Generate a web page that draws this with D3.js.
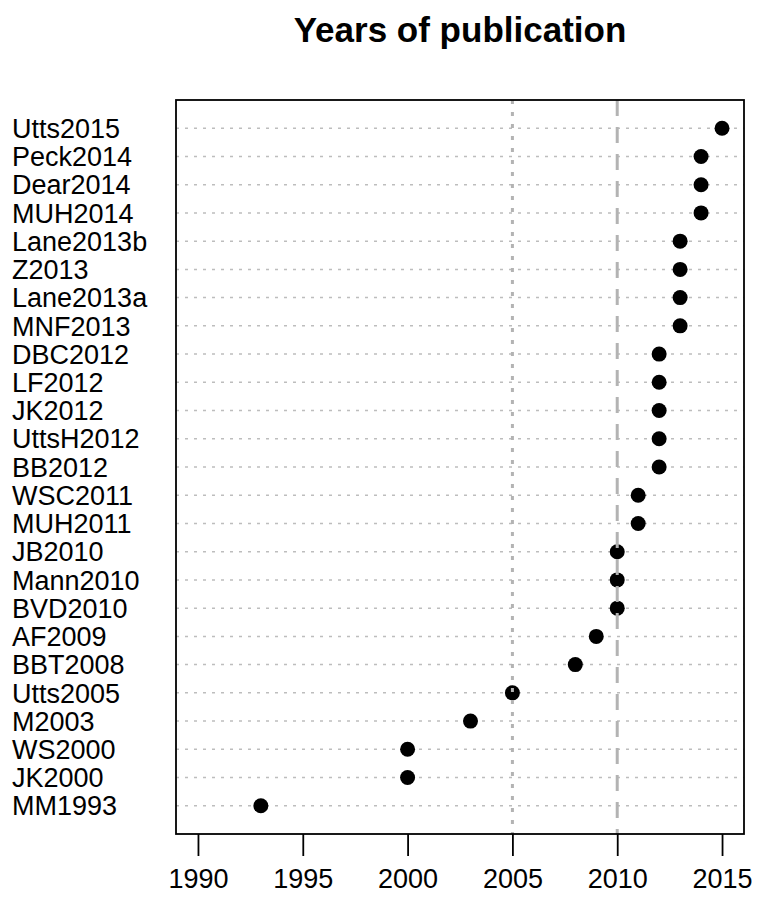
<!DOCTYPE html>
<html>
<head>
<meta charset="utf-8">
<script src="https://cdn.jsdelivr.net/npm/d3@7"></script>
<style>
  body { margin: 0; background: #fff; }
  svg { font-family: "Liberation Sans", Arial, Helvetica, sans-serif; }
</style>
</head>
<body>
<svg id="dotchart" width="760" height="903"></svg>
<script>
// data, top row first
var studies = ["Utts2015", "Peck2014", "Dear2014", "MUH2014", "Lane2013b", "Z2013",
  "Lane2013a", "MNF2013", "DBC2012", "LF2012", "JK2012", "UttsH2012", "BB2012",
  "WSC2011", "MUH2011", "JB2010", "Mann2010", "BVD2010", "AF2009", "BBT2008",
  "Utts2005", "M2003", "WS2000", "JK2000", "MM1993"];
var years = [2015, 2014, 2014, 2014, 2013, 2013, 2013, 2013, 2012, 2012, 2012, 2012, 2012,
  2011, 2011, 2010, 2010, 2010, 2009, 2008, 2005, 2003, 2000, 2000, 1993];
var xTicks = [1990, 1995, 2000, 2005, 2010, 2015];
var refYears = [2005, 2010];

var svg = d3.select("#dotchart");

// plot box
var box = { left: 176, right: 744, top: 100, bottom: 834 };

var x = d3.scaleLinear()
    .domain([1989, 2016]) // R style 4% padding around 1990-2015
    .range([box.left + 1, box.right - 1]);

var y = d3.scaleLinear()
    .domain([-1, studies.length]) // one empty row above and below
    .range([box.top, box.bottom]);

// title
svg.append("text")
    .attr("x", (box.left + box.right) / 2)
    .attr("y", 42)
    .attr("text-anchor", "middle")
    .attr("font-size", 35)
    .attr("font-weight", "bold")
    .text("Years of publication");

// dotted guide line for each study
svg.append("g")
    .selectAll("line")
    .data(studies)
    .enter().append("line")
    .attr("x1", box.left)
    .attr("x2", box.right)
    .attr("y1", function(d, i) { return y(i); })
    .attr("y2", function(d, i) { return y(i); })
    .attr("stroke", "#bdbdbd")
    .attr("stroke-width", 1.5)
    .attr("stroke-dasharray", "3,6");

// points
svg.append("g")
    .selectAll("circle")
    .data(years)
    .enter().append("circle")
    .attr("cx", function(d) { return x(d); })
    .attr("cy", function(d, i) { return y(i); })
    .attr("r", 7.5)
    .attr("fill", "#000");

// reference lines at 2005 (dotted) and 2010 (dashed)
svg.append("g")
    .selectAll("line")
    .data(refYears)
    .enter().append("line")
    .attr("x1", function(d) { return x(d); })
    .attr("x2", function(d) { return x(d); })
    .attr("y1", box.top)
    .attr("y2", box.bottom)
    .attr("stroke", "#b3b3b3")
    .attr("stroke-width", 3)
    .attr("stroke-dasharray", function(d, i) { return i === 0 ? "4,8" : "16,11"; });

// study labels, left aligned
svg.append("g")
    .selectAll("text")
    .data(studies)
    .enter().append("text")
    .attr("x", 12)
    .attr("y", function(d, i) { return y(i); })
    .attr("dy", "0.36em")
    .attr("font-size", 27)
    .attr("fill", "#000")
    .text(function(d) { return d; });

// frame
svg.append("rect")
    .attr("x", box.left)
    .attr("y", box.top)
    .attr("width", box.right - box.left)
    .attr("height", box.bottom - box.top)
    .attr("fill", "none")
    .attr("stroke", "#000")
    .attr("stroke-width", 1.8);

// x axis
var axis = svg.append("g")
    .attr("transform", "translate(0," + box.bottom + ")")
    .call(d3.axisBottom(x).tickValues(xTicks).tickFormat(d3.format("d"))
        .tickSize(22).tickPadding(13));
axis.select(".domain").remove();
axis.selectAll(".tick line").attr("stroke", "#000").attr("stroke-width", 1.8);
axis.selectAll(".tick text")
    .attr("font-size", 27)
    .attr("font-family", "'Liberation Sans', Arial, Helvetica, sans-serif")
    .attr("fill", "#000");
</script>
</body>
</html>
